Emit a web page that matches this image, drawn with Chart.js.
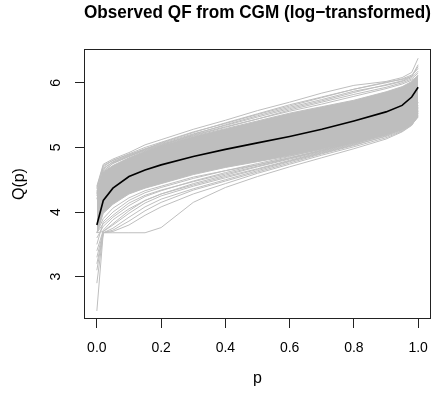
<!DOCTYPE html>
<html>
<head>
<meta charset="utf-8">
<script src="https://cdn.jsdelivr.net/npm/chart.js@4/dist/chart.umd.min.js"></script>
<style>
  html, body { margin: 0; padding: 0; background: #fff; }
  #wrap { width: 442px; height: 395px; }
</style>
</head>
<body>
<div id="wrap"><canvas id="qf_chart" width="442" height="395"></canvas></div>
<script>
// probability grid shared by every quantile curve
const P = [0, 0.02, 0.05, 0.1, 0.15, 0.2, 0.3, 0.4, 0.5, 0.6, 0.7, 0.8, 0.9, 0.95, 0.98, 1.0];

// mean quantile function (black)
const MEAN_Q = [3.80, 4.18, 4.37, 4.55, 4.65, 4.73, 4.86, 4.97, 5.07, 5.17, 5.28, 5.41, 5.55, 5.65, 5.78, 5.93];

// dense part of the subject curves, lower / upper edge
const CORE_LO = [3.68, 3.98, 4.12, 4.28, 4.37, 4.44, 4.58, 4.69, 4.78, 4.87, 4.97, 5.07, 5.20, 5.27, 5.35, 5.47];
const CORE_HI = [4.30, 4.62, 4.72, 4.84, 4.94, 5.03, 5.17, 5.29, 5.41, 5.53, 5.63, 5.73, 5.86, 5.94, 6.02, 6.12];

// individual subject curves above the dense part
const UPPER_CURVES = [
  [4.40, 4.74, 4.82, 4.92, 5.04, 5.12, 5.28, 5.42, 5.57, 5.70, 5.84, 5.96, 6.02, 6.08, 6.16, 6.38],
  [4.32, 4.70, 4.80, 4.90, 5.00, 5.08, 5.24, 5.37, 5.51, 5.64, 5.77, 5.90, 6.00, 6.06, 6.12, 6.22],
  [4.25, 4.66, 4.78, 4.88, 4.98, 5.06, 5.21, 5.34, 5.47, 5.60, 5.72, 5.85, 5.97, 6.03, 6.10, 6.28],
  [4.38, 4.72, 4.80, 4.89, 4.97, 5.05, 5.18, 5.31, 5.44, 5.58, 5.70, 5.82, 5.93, 6.00, 6.06, 6.15],
  [4.20, 4.62, 4.76, 4.86, 4.95, 5.03, 5.19, 5.32, 5.44, 5.56, 5.67, 5.79, 5.91, 5.98, 6.04, 6.10],
  [4.36, 4.68, 4.77, 4.87, 4.96, 5.04, 5.20, 5.35, 5.49, 5.62, 5.74, 5.87, 5.96, 6.02, 6.08, 6.18],
  [4.28, 4.64, 4.75, 4.86, 4.97, 5.07, 5.23, 5.38, 5.52, 5.66, 5.78, 5.90, 6.01, 6.05, 6.10, 6.25],
];

// individual subject curves below the dense part
const LOWER_CURVES = [
  [2.47, 3.68, 3.68, 3.68, 3.68, 3.76, 4.15, 4.38, 4.55, 4.70, 4.84, 4.98, 5.13, 5.24, 5.34, 5.50],
  [3.10, 3.68, 3.72, 3.86, 4.02, 4.15, 4.34, 4.48, 4.62, 4.76, 4.90, 5.03, 5.18, 5.28, 5.38, 5.56],
  [3.30, 3.70, 3.80, 3.98, 4.14, 4.25, 4.40, 4.53, 4.66, 4.79, 4.92, 5.05, 5.20, 5.30, 5.40, 5.62],
  [2.90, 3.68, 3.75, 3.92, 4.08, 4.20, 4.36, 4.50, 4.64, 4.78, 4.91, 5.04, 5.17, 5.26, 5.36, 5.52],
  [3.60, 3.78, 3.92, 4.10, 4.24, 4.33, 4.48, 4.61, 4.73, 4.84, 4.96, 5.09, 5.23, 5.32, 5.43, 5.60],
  [3.50, 3.85, 4.00, 4.18, 4.30, 4.38, 4.52, 4.64, 4.75, 4.86, 4.98, 5.12, 5.26, 5.35, 5.45, 5.70],
  [3.68, 3.90, 4.06, 4.22, 4.33, 4.40, 4.54, 4.64, 4.73, 4.84, 4.95, 5.08, 5.24, 5.34, 5.44, 5.65],
  [3.40, 3.72, 3.88, 4.05, 4.18, 4.28, 4.44, 4.57, 4.70, 4.82, 4.94, 5.07, 5.21, 5.30, 5.39, 5.55],
  [3.68, 3.70, 3.82, 4.02, 4.18, 4.28, 4.42, 4.55, 4.67, 4.80, 4.93, 5.06, 5.19, 5.28, 5.37, 5.53],
  [3.20, 3.68, 3.70, 3.80, 3.95, 4.08, 4.28, 4.44, 4.60, 4.74, 4.88, 5.01, 5.15, 5.25, 5.35, 5.48],
  [3.68, 3.82, 3.95, 4.14, 4.26, 4.34, 4.47, 4.59, 4.71, 4.83, 4.95, 5.08, 5.22, 5.31, 5.41, 5.58],
];

const X_TICKS = [0, 0.2, 0.4, 0.6, 0.8, 1.0];
const Y_TICKS = [3, 4, 5, 6];

const GRAY = "#bebebe";
const INK = "#222";

Chart.defaults.font.family = "'Liberation Sans', Arial, sans-serif";
Chart.defaults.color = "#000";

function toPoints(vals) {
  return vals.map((v, i) => ({ x: P[i], y: v }));
}

function grayLine(vals) {
  return {
    data: toPoints(vals),
    borderColor: GRAY,
    borderWidth: 1,
    pointRadius: 0,
    fill: false,
    order: 2,
  };
}

const datasets = [];
datasets.push({ ...grayLine(MEAN_Q), borderColor: "#000", borderWidth: 1.6, order: 0 });
UPPER_CURVES.forEach(c => datasets.push(grayLine(c)));
LOWER_CURVES.forEach(c => datasets.push(grayLine(c)));
datasets.push(grayLine(CORE_LO));
datasets.push({ ...grayLine(CORE_HI), fill: "-1", backgroundColor: GRAY });

// box around the plot region
const frame = {
  id: "frame",
  afterDatasetsDraw(chart) {
    const { ctx, chartArea: a } = chart;
    ctx.save();
    ctx.strokeStyle = INK;
    ctx.lineWidth = 1;
    ctx.strokeRect(Math.round(a.left) + 0.5, Math.round(a.top) + 0.5,
      Math.round(a.right - a.left) - 1, Math.round(a.bottom - a.top) - 1);
    ctx.restore();
  },
};

const ctx = document.getElementById("qf_chart");

new Chart(ctx, {
  type: "line",
  data: { datasets },
  plugins: [frame],
  options: {
    responsive: false,
    animation: false,
    events: [],
    layout: { padding: { right: 11 } },
    plugins: {
      legend: { display: false },
      tooltip: { enabled: false },
      title: {
        display: true,
        text: "Observed QF from CGM (log\u2212transformed)",
        fullSize: false,
        color: "#000",
        font: { size: 18, weight: "bold" },
        padding: { top: 2.5, bottom: 25 },
      },
    },
    scales: {
      x: {
        type: "linear",
        min: -0.04,
        max: 1.04,
        afterBuildTicks: s => { s.ticks = X_TICKS.map(v => ({ value: v })); },
        afterFit: s => { s.height = 76; },
        ticks: {
          font: { size: 14 },
          padding: 12,
          maxRotation: 0,
          callback: v => v.toFixed(1),
        },
        grid: { drawOnChartArea: false, tickLength: 9, color: INK },
        border: { display: false },
        title: { display: true, text: "p", font: { size: 16 }, padding: { top: 0, bottom: 6.5 } },
      },
      y: {
        type: "linear",
        min: 2.346,
        max: 6.521,
        afterBuildTicks: s => { s.ticks = Y_TICKS.map(v => ({ value: v })); },
        afterFit: s => { s.width = 84; },
        ticks: {
          font: { size: 14 },
          padding: 15,
          minRotation: 90,
          maxRotation: 90,
          crossAlign: "center",
          callback: v => String(v),
        },
        grid: { drawOnChartArea: false, tickLength: 9, color: INK },
        border: { display: false },
        title: { display: true, text: "Q(p)", font: { size: 16 }, padding: { top: 10, bottom: 0 } },
      },
    },
  },
});
</script>
</body>
</html>
